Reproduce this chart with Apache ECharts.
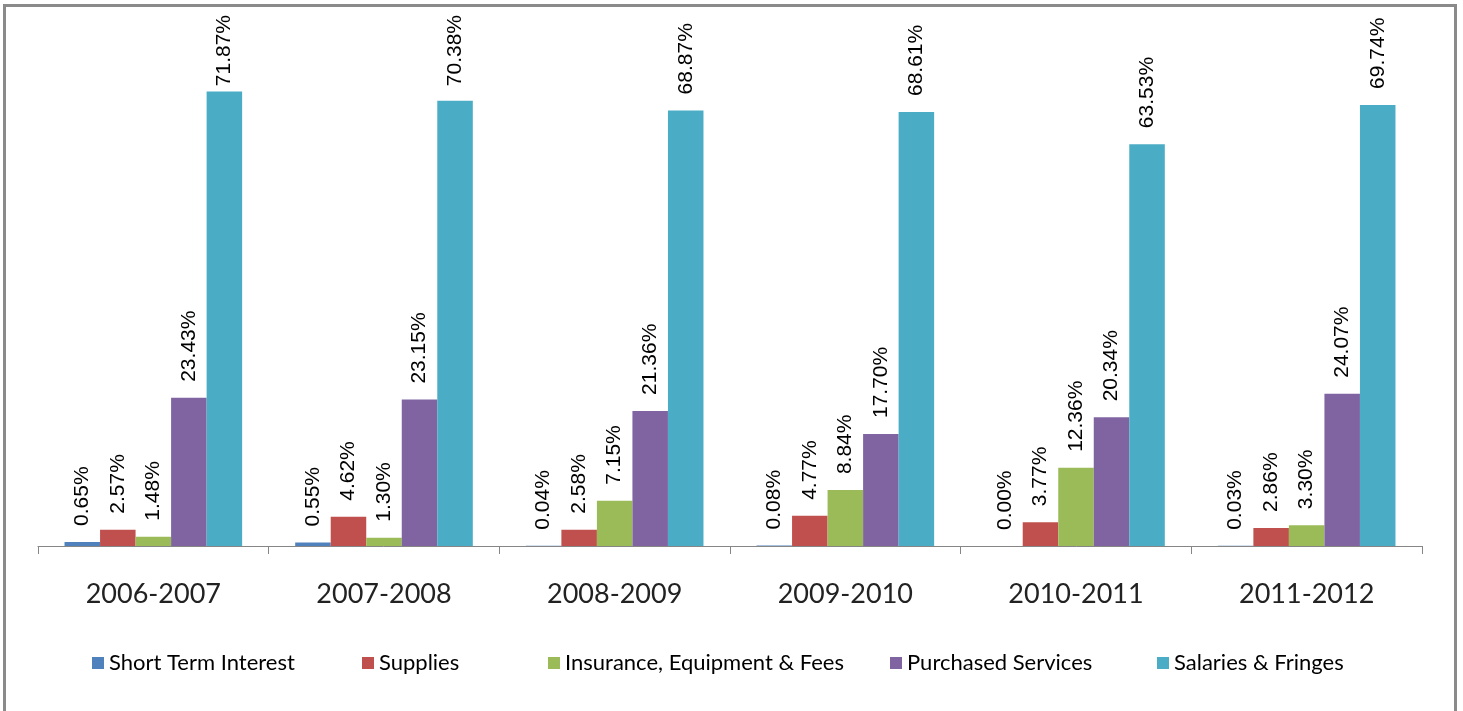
<!DOCTYPE html>
<html>
<head>
<meta charset="utf-8">
<script src="https://cdn.jsdelivr.net/npm/echarts@6/dist/echarts.min.js"></script>
<style>
html,body{margin:0;padding:0;background:#fff;}
#c{width:1463px;height:711px;}
</style>
</head>
<body>
<div id="c"></div>
<script>
const categories = ['2006-2007','2007-2008','2008-2009','2009-2010','2010-2011','2011-2012'];
const seriesNames = ['Short Term Interest','Supplies','Insurance, Equipment & Fees','Purchased Services','Salaries & Fringes'];
const shortTermInterest = [0.65, 0.55, 0.04, 0.08, 0.00, 0.03];
const supplies = [2.57, 4.62, 2.58, 4.77, 3.77, 2.86];
const insuranceEquipmentFees = [1.48, 1.30, 7.15, 8.84, 12.36, 3.30];
const purchasedServices = [23.43, 23.15, 21.36, 17.70, 20.34, 24.07];
const salariesFringes = [71.87, 70.38, 68.87, 68.61, 63.53, 69.74];

const colors = ['#4F81BD','#C0504D','#9BBB59','#8064A2','#4BACC6'];
const allData = [shortTermInterest, supplies, insuranceEquipmentFees, purchasedServices, salariesFringes];
const legendLefts = [87, 357, 543, 885, 1152];
const LABEL_DIST = 16;
const LABEL_MIN_TOP = 15;
const LABEL_FONT = '21px "Liberation Sans"';
const fmt = v => v.toFixed(2) + '%';

const chart = echarts.init(document.getElementById('c'));
const option = {
  animation: false,
  backgroundColor: '#fff',
  color: colors,
  grid: { left: 38, right: 41, top: 40, bottom: 165, containLabel: false },
  graphic: [{
    type: 'rect',
    shape: { x: 4.5, y: 5.5, width: 1451, height: 720 },
    style: { fill: 'none', stroke: '#8a8a8a', lineWidth: 3 },
    silent: true, z: 100
  }],
  legend: seriesNames.map((n, i) => ({
    data: [n],
    left: legendLefts[i],
    top: 646,
    itemWidth: 12,
    itemHeight: 12,
    icon: 'rect',
    selectedMode: false,
    textStyle: { fontFamily: 'Lato', fontSize: 22, color: '#000', lineHeight: 24 }
  })),
  xAxis: {
    type: 'category',
    data: categories,
    axisLine: { lineStyle: { color: '#868686', width: 1 } },
    axisTick: { show: true, length: 8, lineStyle: { color: '#868686' } },
    axisLabel: { fontFamily: 'Lato', fontSize: 27, color: '#222', margin: 35 }
  },
  yAxis: {
    type: 'value', min: 0, max: 80, show: false,
    splitLine: { show: false }
  },
  series: seriesNames.map((n, i) => ({
    name: n,
    type: 'bar',
    data: allData[i],
    barGap: '0%',
    barCategoryGap: '23%',
    itemStyle: { color: colors[i] },
    label: {
      show: true,
      position: 'top',
      rotate: 90,
      align: 'left',
      verticalAlign: 'middle',
      distance: LABEL_DIST,
      fontFamily: 'Liberation Sans',
      fontSize: 21,
      color: '#000',
      formatter: p => fmt(p.value)
    }
  }))
};
chart.setOption(option);

// keep labels inside the chart frame (like the original, where a tall label is pushed down)
const ctx = document.createElement('canvas').getContext('2d');
ctx.font = LABEL_FONT;
const newSeries = seriesNames.map((n, i) => ({
  data: allData[i].map((v, j) => {
    const py = chart.convertToPixel({ gridIndex: 0 }, [j, v])[1];
    const len = ctx.measureText(fmt(v)).width;
    const top = py - LABEL_DIST - len;
    if (top < LABEL_MIN_TOP) {
      return { value: v, label: { distance: Math.max(1, py - len - LABEL_MIN_TOP) } };
    }
    return v;
  })
}));
chart.setOption({ series: newSeries });
</script>
</body>
</html>
